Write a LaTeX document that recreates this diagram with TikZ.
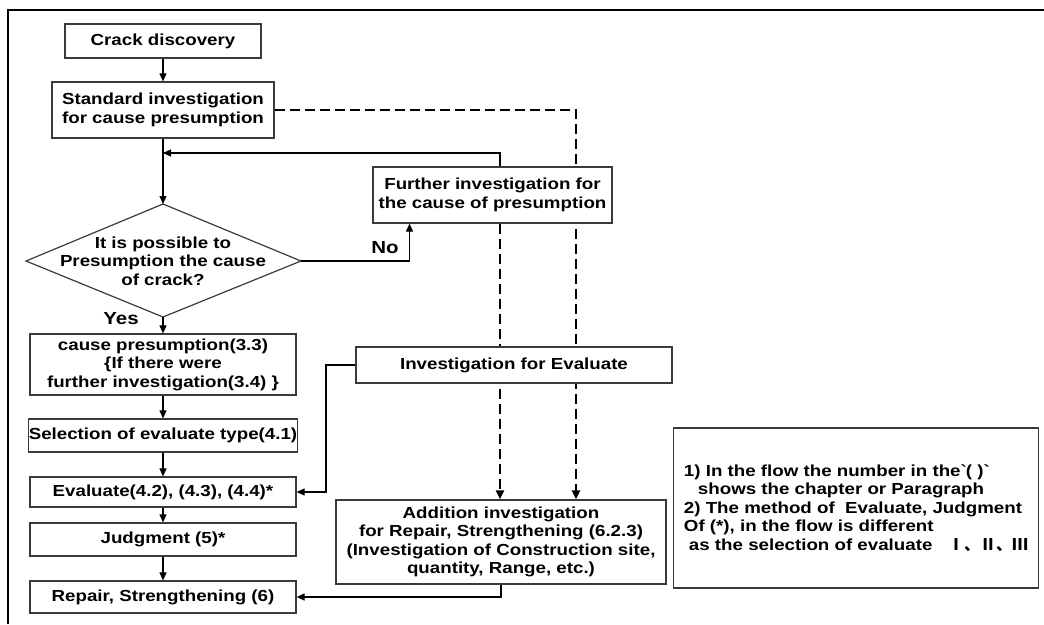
\documentclass[tikz,border=0pt]{standalone}
\usepackage{fontspec}
\setmainfont{Liberation Sans}[FakeStretch=1.17]
\newfontfamily\cjkf{Noto Sans CJK SC}
\usetikzlibrary{arrows.meta,backgrounds}
\definecolor{boxgray}{HTML}{3A3A3A}
\begin{document}
\begin{tikzpicture}[x=1pt,y=-1pt,
  font=\bfseries\fontsize{16}{18.5}\selectfont,
  box/.style={draw=boxgray, line width=1.2pt, fill=white, inner sep=0pt, align=center},
  conn/.style={line width=1.1pt, -{Triangle[length=8pt,width=7pt]}},
  dashline/.style={line width=2.8pt, dash pattern=on 10pt off 5pt, -{Triangle[length=9pt,width=8pt]}},
  lbl/.style={inner sep=0pt, font=\bfseries\fontsize{17.5}{20}\selectfont}]
\useasboundingbox (0,0) rectangle (1044,624);
% outer frame (open at right and bottom)
\draw[line width=1.5pt] (8,624) -- (8,10) -- (1044,10);

% left column
\node[box, minimum width=196, minimum height=34] (crack) at (163,41) {Crack discovery};
\node[box, minimum width=222, minimum height=56] (std) at (163,110) {Standard investigation\\ for cause presumption};
\node[inner sep=0pt, align=center] (dec) at (163,261) {It is possible to\\Presumption the cause\\of crack?};
\coordinate (dT) at (163,204);
\coordinate (dB) at (163,317);
\coordinate (dL) at (26,261);
\coordinate (dR) at (301,261);
\draw[draw=boxgray, line width=1.2pt] (dT) -- (dR) -- (dB) -- (dL) -- cycle;
\node[box, minimum width=266, minimum height=61] (cause) at (163,364.5) {cause presumption(3.3)\\\{If there were\\further investigation(3.4) \}};
\node[box, minimum width=266, minimum height=33] (sel) at (163,435.5) {Selection of evaluate type(4.1)};
\node[box, minimum width=266, minimum height=30] (eval) at (163,492) {Evaluate(4.2), (4.3), (4.4)*};
\node[box, minimum width=266, minimum height=33] (judg) at (163,539.5) {Judgment (5)*};
\node[box, minimum width=266, minimum height=32] (rep) at (163,597) {Repair, Strengthening (6)};

% right part
\node[box, minimum width=239, minimum height=56] (fur) at (492.5,195) {Further investigation for\\the cause of presumption};
\node[box, minimum width=316, minimum height=36] (inv) at (514,365) {Investigation for Evaluate};
\node[box, minimum width=330, minimum height=84] (add) at (501,542) {Addition investigation\\for Repair, Strengthening (6.2.3)\\(Investigation of Construction site,\\quantity, Range, etc.)};
\node[box, minimum width=365, minimum height=160, align=left] (note) at (856,508) {1) In the flow the number in the\textasciigrave(\ )\textasciigrave\\
\hspace*{14pt}shows the chapter or Paragraph\\
2) The method of\ \ Evaluate, Judgment\\
Of (*), in the flow is different\\
\hspace*{5pt}as the selection of evaluate\ \ \ {\cjkf Ⅰ、Ⅱ、Ⅲ}};

% labels
\node[lbl] (no) at (385,248) {No};
\node[lbl] (yes) at (121,319) {Yes};

% solid connectors
\draw[conn] (crack.south) -- (std.north);
\draw[conn] (std.south) -- (dT);
\coordinate (ret) at (500,153);
\draw[conn] (fur.north -| ret) -- (ret) -- (ret -| std.south);
\coordinate (nob) at (409.5,261);
\draw[conn] (dR) -- (nob) -- (nob |- fur.south);
\draw[conn] (dB) -- (cause.north);
\draw[conn] (cause.south) -- (sel.north);
\draw[conn] (sel.south) -- (eval.north);
\draw[conn] (eval.south) -- (judg.north);
\draw[conn] (judg.south) -- (rep.north);
\coordinate (ib) at (326,420);
\draw[conn] (inv.west) -- (inv.west -| ib) -- (ib |- eval.east) -- (eval.east);
\draw[conn] (add.south) -- (add.south |- rep.east) -- (rep.east);

% dashed connectors behind boxes
\begin{scope}[on background layer]
\coordinate (dx) at (576,300);
\coordinate (dx2) at (500,300);
\draw[dashline] (std.east) -- (std.east -| dx) -- (dx |- add.north);
\draw[dashline] (fur.south -| dx2) -- (dx2 |- add.north);
\end{scope}
\end{tikzpicture}
\end{document}
